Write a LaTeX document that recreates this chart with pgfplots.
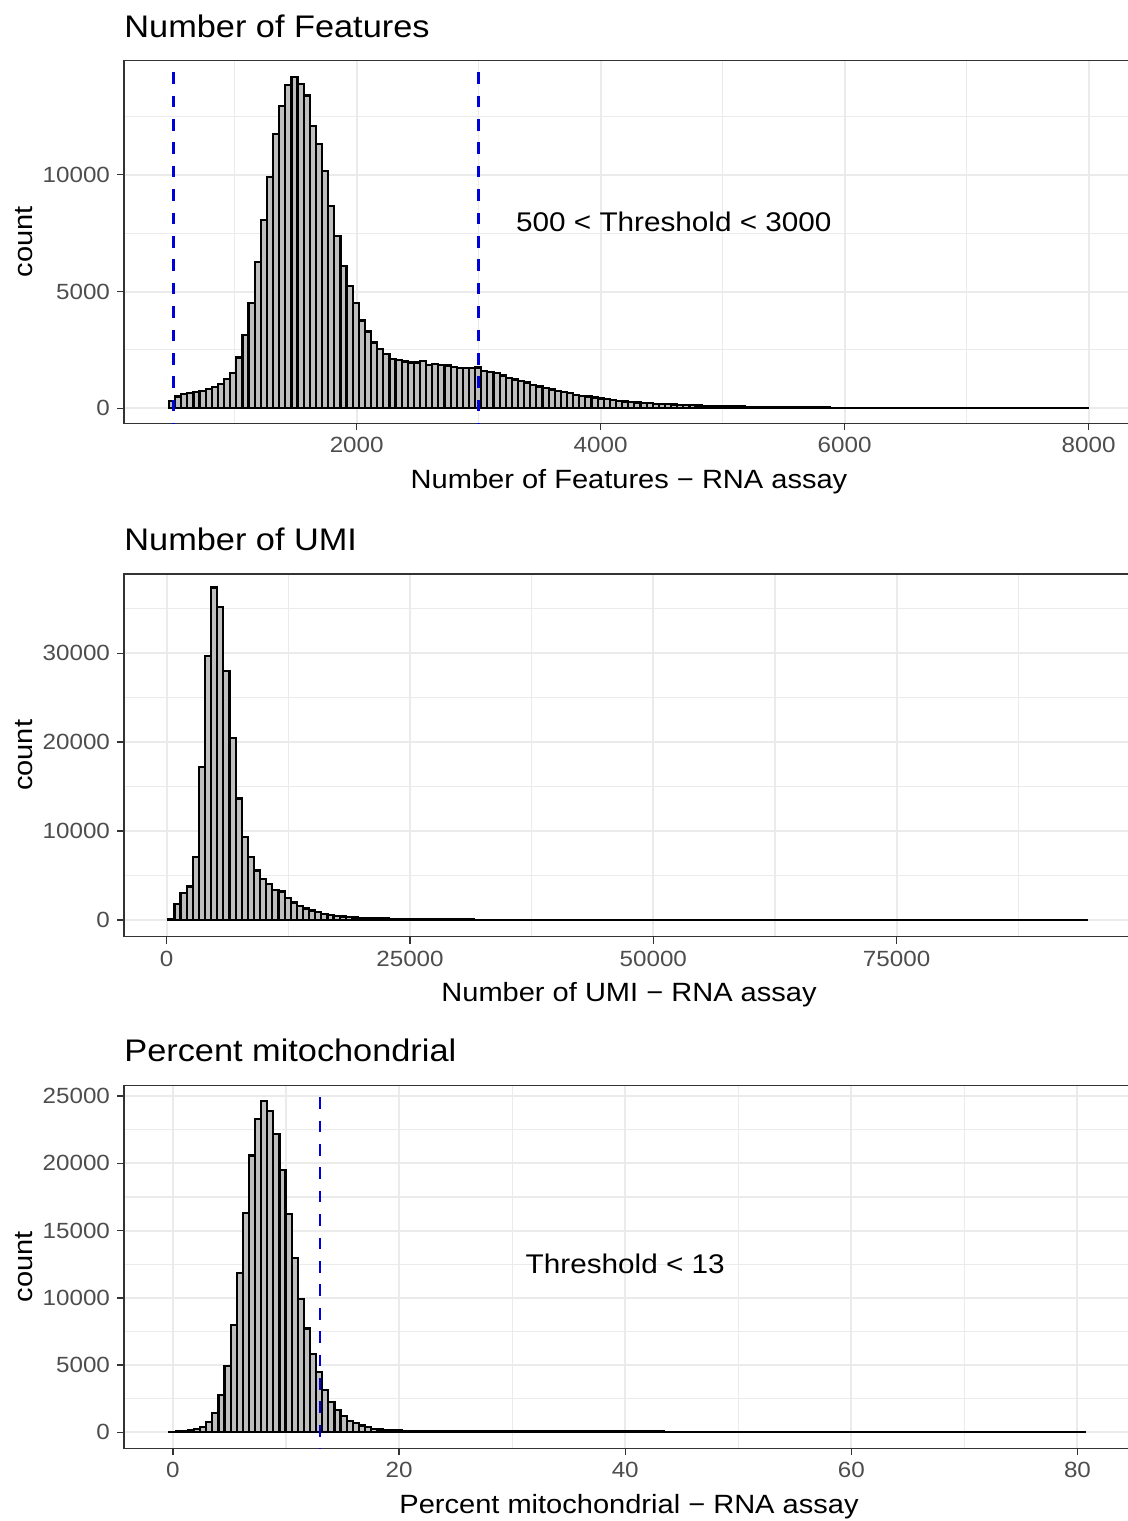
\documentclass[border=0pt]{standalone}
\usepackage{fontspec}
\setmainfont{Liberation Sans}[FakeStretch=1.1]
\usepackage{pgfplots}
\usepackage{pgfplotstable}
\pgfplotsset{compat=1.18}
\definecolor{gridc}{HTML}{EBEBEB}
\definecolor{axc}{HTML}{333333}
\definecolor{tlc}{HTML}{4D4D4D}
\definecolor{barc}{HTML}{BEBEBE}
\definecolor{vlc}{HTML}{0000D8}

\pgfplotstableread{
c
300
500
600
670
700
730
830
900
1030
1260
1500
2170
3140
4500
6270
8060
9920
11730
12930
13860
14200
13880
13390
12080
11300
10150
8670
7360
6100
5240
4500
3760
3290
2815
2540
2330
2115
2070
2000
1960
1960
2015
1870
1900
1870
1830
1760
1715
1715
1715
1745
1600
1540
1500
1400
1300
1230
1180
1100
1000
930
860
800
740
690
640
580
540
500
460
420
380
340
310
290
270
250
230
210
195
180
170
160
150
140
130
120
112
105
98
92
86
80
75
70
66
62
58
54
50
47
44
41
38
36
34
32
30
28
26
24
22
21
20
18
17
16
15
14
13
12
11
10
10
9
8
8
7
7
6
6
5
5
4
4
4
3
3
3
2
2
2
2
1
1
1
1
1
0
1
0
}\featT

\pgfplotstableread{
c
110
1770
3000
3760
7070
17180
29700
37400
35230
28010
20490
13650
9330
7070
5560
4590
4060
3380
3200
2460
1970
1600
1280
1070
885
700
560
440
380
330
270
230
210
195
180
160
145
130
120
110
100
92
85
78
72
66
60
55
50
46
42
39
36
33
30
28
26
24
22
20
19
18
17
16
15
14
13
12
12
11
10
10
9
9
8
8
7
7
6
6
6
5
5
5
4
4
4
4
3
3
3
3
3
2
2
2
2
2
2
2
1
1
2
1
1
1
1
0
1
1
1
0
1
1
0
1
0
1
0
0
1
0
0
1
0
0
0
1
0
0
0
0
1
0
0
0
0
0
1
0
0
0
0
0
0
1
0
0
0
1
0
}\umiT

\pgfplotstableread{
c
50
100
120
170
270
420
790
1410
2770
4930
7970
11860
16310
20590
23270
24630
23880
22200
19480
16260
12970
9900
7720
5840
4460
3120
2280
1660
1210
870
670
500
370
270
210
170
145
130
120
115
112
110
108
106
104
102
100
98
96
94
92
90
88
86
85
84
82
80
79
78
76
75
74
72
71
70
69
68
66
65
64
63
62
61
60
59
58
57
56
55
54
53
52
51
50
49
48
47
46
45
44
43
42
41
40
39
38
37
36
35
34
33
32
31
30
30
29
28
27
27
26
25
25
24
23
23
22
21
21
20
20
19
19
18
18
17
17
16
16
15
15
14
14
13
13
12
12
12
11
11
10
10
10
9
9
9
8
8
8
7
0
}\mitoT

\pgfplotsset{
  gg/.style={
    scale only axis, width=505pt, height=181.4pt, anchor=south west,
    axis line style={draw=axc, line width=0.7pt},
    tick align=outside, tick pos=left,
    major tick length=3.5pt, minor tick length=0pt,
    tick style={draw=axc, line width=0.7pt},
    xmajorgrids, ymajorgrids, xminorgrids, yminorgrids,
    major grid style={draw=gridc, line width=1pt},
    minor grid style={draw=gridc, line width=0.55pt},
    ticklabel style={font=\fontsize{11}{13}\selectfont, text=tlc},
    /pgf/number format/assume math mode=true,
    /pgf/number format/1000 sep={},
    scaled ticks=false,
  },
  hist/.style={ybar interval, fill=barc, draw=black, line width=1.1pt},
  vl/.style={draw=vlc, line width=1.3pt, dash pattern=on 5.85pt off 5.85pt, dash phase=5.85pt},
}

\begin{document}
\begin{tikzpicture}[x=0.5pt,y=0.5pt]
% Panel 1
\begin{axis}[gg, at={(62pt,548.85pt)},
  xmin=92.6, xmax=8372, ymin=-643, ymax=14893,
  xtick={2000,4000,6000,8000}, minor xtick={1000,3000,5000,7000},
  ytick={0,5000,10000}, minor ytick={2500,7500,12500}]
\addplot[hist] table[x expr={461+50.2*\coordindex}, y=c] {\featT};
\addplot[vl] coordinates {(500,14893) (500,-643)};
\addplot[vl] coordinates {(3000,14893) (3000,-643)};
\node[font=\fontsize{13.5}{15}\selectfont] at (axis cs:4600,8000) {500 < Threshold < 3000};
\end{axis}
% Panel 2
\begin{axis}[gg, at={(62pt,292.15pt)},
  xmin=-4387, xmax=99390, ymin=-1880, ymax=38920,
  xtick={0,25000,50000,75000}, minor xtick={12500,37500,62500,87500},
  ytick={0,10000,20000,30000}, minor ytick={5000,15000,25000,35000}]
\addplot[hist] table[x expr={164+629*\coordindex}, y=c] {\umiT};
\end{axis}
% Panel 3
\begin{axis}[gg, at={(62pt,36.35pt)},
  xmin=-4.33, xmax=85.0, ymin=-1188, ymax=25790,
  xtick={0,20,40,60,80}, minor xtick={10,30,50,70},
  ytick={0,5000,10000,15000,20000,25000}, minor ytick={2500,7500,12500,17500,22500}]
\addplot[hist] table[x expr={-0.3+0.54*\coordindex}, y=c] {\mitoT};
\addplot[vl] coordinates {(13,25790) (13,-1188)};
\node[font=\fontsize{13.5}{15}\selectfont] at (axis cs:40,12500) {Threshold < 13};
\end{axis}
% Titles and labels
\begin{scope}[every node/.style={inner sep=0pt}]
\node[font=\fontsize{15.6}{18}\selectfont, anchor=base west] at (124,1483.7) {Number of Features};
\node[font=\fontsize{15.6}{18}\selectfont, anchor=base west] at (124,970.4) {Number of UMI};
\node[font=\fontsize{15.6}{18}\selectfont, anchor=base west] at (124,459.4) {Percent mitochondrial};
\node[font=\fontsize{13.2}{15}\selectfont, anchor=base] at (629,1032) {Number of Features − RNA assay};
\node[font=\fontsize{13.2}{15}\selectfont, anchor=base] at (629,519.5) {Number of UMI − RNA assay};
\node[font=\fontsize{13.2}{15}\selectfont, anchor=base] at (629,7) {Percent mitochondrial − RNA assay};
\node[font=\fontsize{13.2}{15}\selectfont, rotate=90, anchor=base] at (32,1279) {count};
\node[font=\fontsize{13.2}{15}\selectfont, rotate=90, anchor=base] at (32,765.6) {count};
\node[font=\fontsize{13.2}{15}\selectfont, rotate=90, anchor=base] at (32,254.4) {count};
\end{scope}
\pgfresetboundingbox
\useasboundingbox (0,0) rectangle (1128,1521);
\end{tikzpicture}
\end{document}
